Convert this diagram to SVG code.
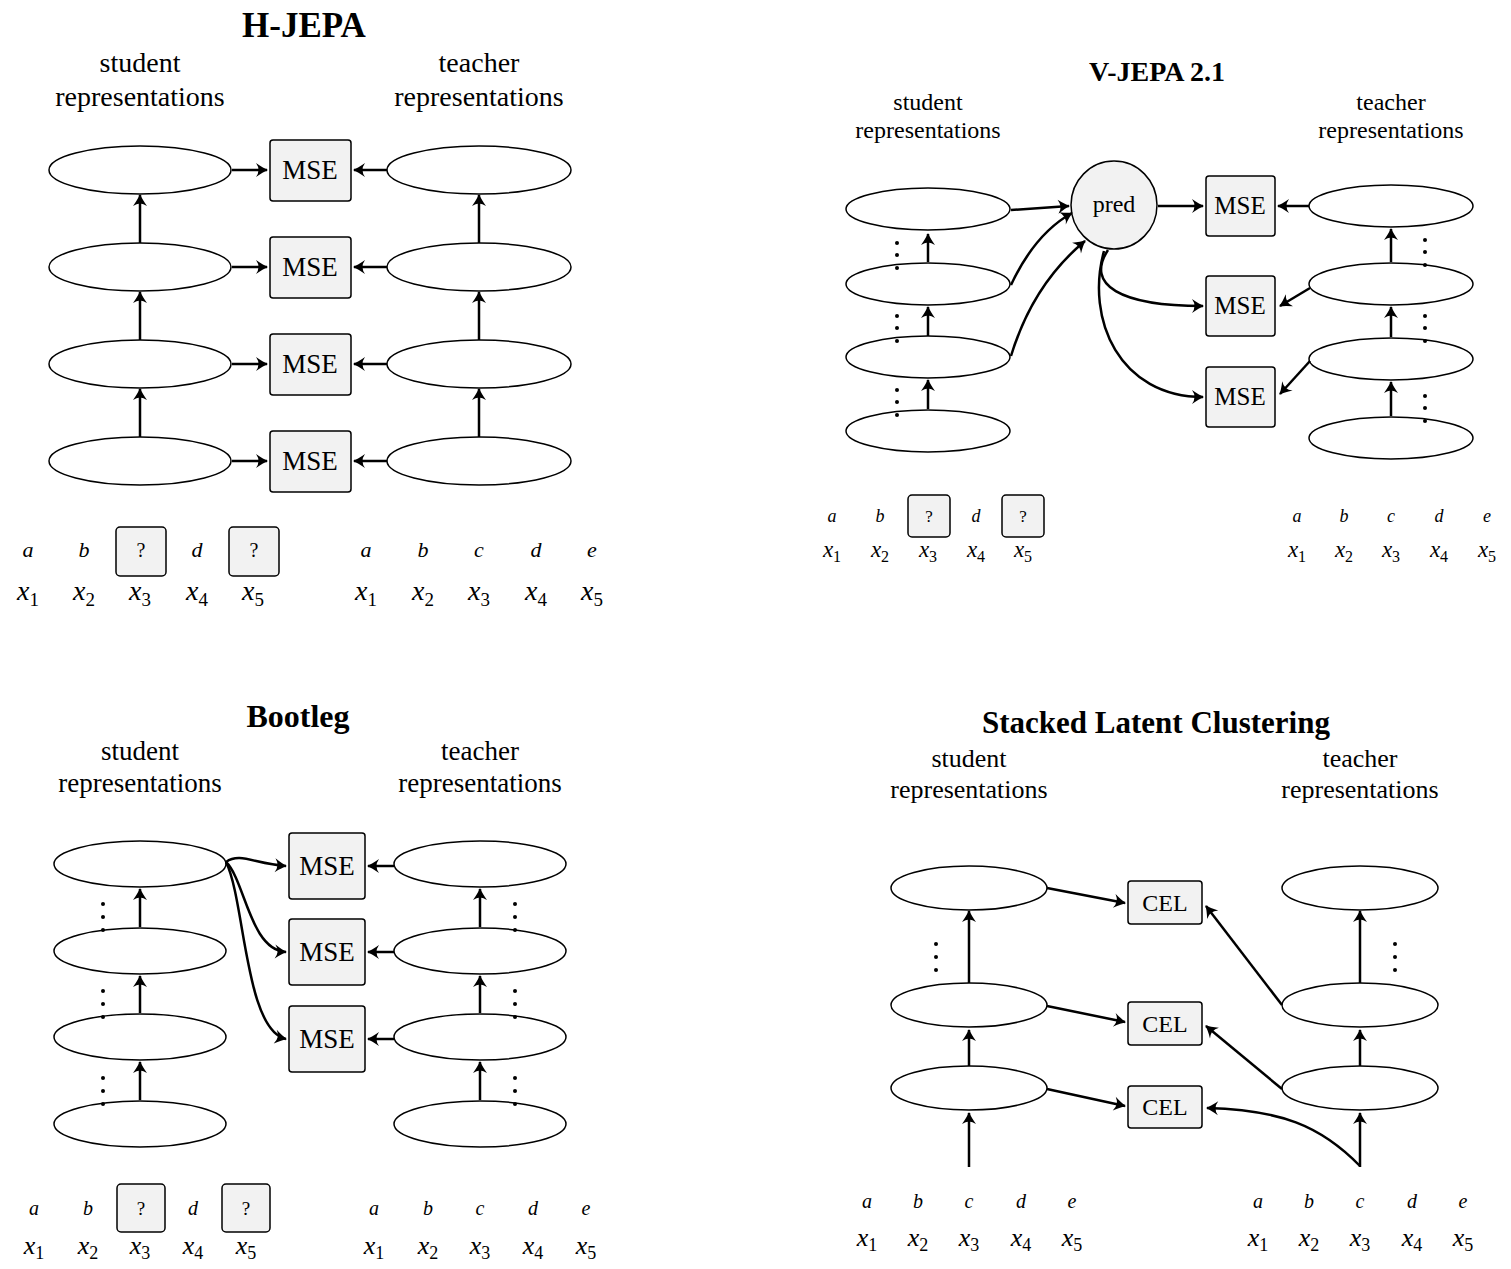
<svg xmlns="http://www.w3.org/2000/svg" width="1511" height="1269" viewBox="0 0 1511 1269">
<style>
text{font-family:"Liberation Serif","Times New Roman",serif;fill:#000}
.t{font-weight:bold;text-anchor:middle}
.c{text-anchor:middle}
.m{font-style:italic;text-anchor:middle}
.e{fill:#fff;stroke:#000;stroke-width:1.5}
.b{fill:#f2f2f2;stroke:#000;stroke-width:1.5}
.a{fill:none;stroke:#000;stroke-width:2.5;marker-end:url(#ah)}
.d{fill:#000}
</style>
<defs>
<marker id="ah" viewBox="-12 -8 14 16" refX="0" refY="0" markerWidth="14" markerHeight="16" markerUnits="userSpaceOnUse" orient="auto">
<path d="M-11,-7 Q-4,-2 1,0 Q-4,2 -11,7 Q-6,0 -11,-7Z" fill="#000"/>
</marker>
</defs>
<rect width="1511" height="1269" fill="#fff"/>

<!-- H-JEPA -->
<g id="hjepa-labels">
<text class="t" x="304" y="37" font-size="35">H-JEPA</text>
<text class="c" x="140" y="72" font-size="28">student</text>
<text class="c" x="140" y="106" font-size="28">representations</text>
<text class="c" x="479" y="72" font-size="28">teacher</text>
<text class="c" x="479" y="106" font-size="28">representations</text>
</g>
<g id="hjepa-student">
<ellipse class="e" cx="140" cy="170" rx="91" ry="24"/>
<ellipse class="e" cx="140" cy="267" rx="91" ry="24"/>
<ellipse class="e" cx="140" cy="364" rx="91" ry="24"/>
<ellipse class="e" cx="140" cy="461" rx="91" ry="24"/>
</g>
<g id="hjepa-teacher">
<ellipse class="e" cx="479" cy="170" rx="92" ry="24"/>
<ellipse class="e" cx="479" cy="267" rx="92" ry="24"/>
<ellipse class="e" cx="479" cy="364" rx="92" ry="24"/>
<ellipse class="e" cx="479" cy="461" rx="92" ry="24"/>
</g>
<g id="hjepa-mse">
<rect class="b" x="270" y="140" width="81" height="61" rx="3"/><text class="c" x="310" y="179" font-size="27">MSE</text>
<rect class="b" x="270" y="237" width="81" height="61" rx="3"/><text class="c" x="310" y="276" font-size="27">MSE</text>
<rect class="b" x="270" y="334" width="81" height="61" rx="3"/><text class="c" x="310" y="373" font-size="27">MSE</text>
<rect class="b" x="270" y="431" width="81" height="61" rx="3"/><text class="c" x="310" y="470" font-size="27">MSE</text>
</g>
<g id="hjepa-connectors">
<path class="a" d="M232,170H267"/><path class="a" d="M232,267H267"/><path class="a" d="M232,364H267"/><path class="a" d="M232,461H267"/>
<path class="a" d="M387,170H354"/><path class="a" d="M387,267H354"/><path class="a" d="M387,364H354"/><path class="a" d="M387,461H354"/>
<path class="a" d="M140,243V195"/><path class="a" d="M140,340V292"/><path class="a" d="M140,437V389"/>
<path class="a" d="M479,243V195"/><path class="a" d="M479,340V292"/><path class="a" d="M479,437V389"/>
</g>
<g id="hjepa-tokens">
<rect class="b" x="116" y="527" width="50" height="49" rx="4"/>
<rect class="b" x="229" y="527" width="50" height="49" rx="4"/>
<text class="m" x="28" y="557" font-size="22">a</text><text class="m" x="84" y="557" font-size="22">b</text><text class="c" x="141" y="557" font-size="20">?</text><text class="m" x="197" y="557" font-size="22">d</text><text class="c" x="254" y="557" font-size="20">?</text>
<text class="m" x="28" y="600" font-size="28">x<tspan font-size="19" dy="6" font-style="normal">1</tspan></text>
<text class="m" x="84" y="600" font-size="28">x<tspan font-size="19" dy="6" font-style="normal">2</tspan></text>
<text class="m" x="140" y="600" font-size="28">x<tspan font-size="19" dy="6" font-style="normal">3</tspan></text>
<text class="m" x="197" y="600" font-size="28">x<tspan font-size="19" dy="6" font-style="normal">4</tspan></text>
<text class="m" x="253" y="600" font-size="28">x<tspan font-size="19" dy="6" font-style="normal">5</tspan></text>
<text class="m" x="366" y="557" font-size="22">a</text><text class="m" x="423" y="557" font-size="22">b</text><text class="m" x="479" y="557" font-size="22">c</text><text class="m" x="536" y="557" font-size="22">d</text><text class="m" x="592" y="557" font-size="22">e</text>
<text class="m" x="366" y="600" font-size="28">x<tspan font-size="19" dy="6" font-style="normal">1</tspan></text>
<text class="m" x="423" y="600" font-size="28">x<tspan font-size="19" dy="6" font-style="normal">2</tspan></text>
<text class="m" x="479" y="600" font-size="28">x<tspan font-size="19" dy="6" font-style="normal">3</tspan></text>
<text class="m" x="536" y="600" font-size="28">x<tspan font-size="19" dy="6" font-style="normal">4</tspan></text>
<text class="m" x="592" y="600" font-size="28">x<tspan font-size="19" dy="6" font-style="normal">5</tspan></text>
</g>

<!-- V-JEPA 2.1 -->
<g id="vjepa-labels">
<text class="t" x="1157" y="81" font-size="28">V-JEPA 2.1</text>
<text class="c" x="928" y="110" font-size="24">student</text>
<text class="c" x="928" y="138" font-size="24">representations</text>
<text class="c" x="1391" y="110" font-size="24">teacher</text>
<text class="c" x="1391" y="138" font-size="24">representations</text>
</g>
<g id="vjepa-student">
<ellipse class="e" cx="928" cy="209" rx="82" ry="21"/>
<ellipse class="e" cx="928" cy="284" rx="82" ry="21"/>
<ellipse class="e" cx="928" cy="357" rx="82" ry="21"/>
<ellipse class="e" cx="928" cy="431" rx="82" ry="21"/>
<g class="d"><circle cx="897" cy="243" r="2"/><circle cx="897" cy="255" r="2"/><circle cx="897" cy="268" r="2"/>
<circle cx="897" cy="316" r="2"/><circle cx="897" cy="328" r="2"/><circle cx="897" cy="341" r="2"/>
<circle cx="897" cy="390" r="2"/><circle cx="897" cy="402" r="2"/><circle cx="897" cy="415" r="2"/></g>
</g>
<g id="vjepa-pred">
<ellipse class="b" cx="1114" cy="205" rx="43" ry="44"/><text class="c" x="1114" y="212" font-size="24">pred</text>
</g>
<g id="vjepa-mse">
<rect class="b" x="1206" y="176" width="69" height="60" rx="3"/><text class="c" x="1240" y="214" font-size="25">MSE</text>
<rect class="b" x="1206" y="276" width="69" height="60" rx="3"/><text class="c" x="1240" y="314" font-size="25">MSE</text>
<rect class="b" x="1206" y="367" width="69" height="60" rx="3"/><text class="c" x="1240" y="405" font-size="25">MSE</text>
</g>
<g id="vjepa-teacher">
<ellipse class="e" cx="1391" cy="206" rx="82" ry="21"/>
<ellipse class="e" cx="1391" cy="284" rx="82" ry="21"/>
<ellipse class="e" cx="1391" cy="359" rx="82" ry="21"/>
<ellipse class="e" cx="1391" cy="438" rx="82" ry="21"/>
<g class="d"><circle cx="1425" cy="240" r="2"/><circle cx="1425" cy="252" r="2"/><circle cx="1425" cy="265" r="2"/>
<circle cx="1425" cy="316" r="2"/><circle cx="1425" cy="328" r="2"/><circle cx="1425" cy="341" r="2"/>
<circle cx="1425" cy="396" r="2"/><circle cx="1425" cy="408" r="2"/><circle cx="1425" cy="421" r="2"/></g>
</g>
<g id="vjepa-connectors">
<path class="a" d="M928,262V234"/><path class="a" d="M928,336V307"/><path class="a" d="M928,409V380"/>
<path class="a" d="M1391,262V229"/><path class="a" d="M1391,337V307"/><path class="a" d="M1391,416V382"/>
<path class="a" d="M1011,210L1069,206"/>
<path class="a" d="M1011,285C1025,255 1045,228 1072,213"/>
<path class="a" d="M1011,356C1025,310 1050,270 1085,241"/>
<path class="a" d="M1158,206H1203"/>
<path class="a" d="M1108,250C1085,285 1120,306 1203,306"/>
<path class="a" d="M1104,251C1085,320 1120,397 1203,397"/>
<path class="a" d="M1309,206H1278"/>
<path class="a" d="M1310,288L1280,306"/>
<path class="a" d="M1310,361L1280,394"/>
</g>
<g id="vjepa-tokens">
<rect class="b" x="908" y="495" width="42" height="42" rx="4"/>
<rect class="b" x="1002" y="495" width="42" height="42" rx="4"/>
<text class="m" x="832" y="522" font-size="18">a</text><text class="m" x="880" y="522" font-size="18">b</text><text class="c" x="929" y="522" font-size="17">?</text><text class="m" x="976" y="522" font-size="18">d</text><text class="c" x="1023" y="522" font-size="17">?</text>
<text class="m" x="832" y="557" font-size="23">x<tspan font-size="16" dy="5" font-style="normal">1</tspan></text>
<text class="m" x="880" y="557" font-size="23">x<tspan font-size="16" dy="5" font-style="normal">2</tspan></text>
<text class="m" x="928" y="557" font-size="23">x<tspan font-size="16" dy="5" font-style="normal">3</tspan></text>
<text class="m" x="976" y="557" font-size="23">x<tspan font-size="16" dy="5" font-style="normal">4</tspan></text>
<text class="m" x="1023" y="557" font-size="23">x<tspan font-size="16" dy="5" font-style="normal">5</tspan></text>
<text class="m" x="1297" y="522" font-size="18">a</text><text class="m" x="1344" y="522" font-size="18">b</text><text class="m" x="1391" y="522" font-size="18">c</text><text class="m" x="1439" y="522" font-size="18">d</text><text class="m" x="1487" y="522" font-size="18">e</text>
<text class="m" x="1297" y="557" font-size="23">x<tspan font-size="16" dy="5" font-style="normal">1</tspan></text>
<text class="m" x="1344" y="557" font-size="23">x<tspan font-size="16" dy="5" font-style="normal">2</tspan></text>
<text class="m" x="1391" y="557" font-size="23">x<tspan font-size="16" dy="5" font-style="normal">3</tspan></text>
<text class="m" x="1439" y="557" font-size="23">x<tspan font-size="16" dy="5" font-style="normal">4</tspan></text>
<text class="m" x="1487" y="557" font-size="23">x<tspan font-size="16" dy="5" font-style="normal">5</tspan></text>
</g>

<!-- Bootleg -->
<g id="bootleg-labels">
<text class="t" x="298" y="727" font-size="32">Bootleg</text>
<text class="c" x="140" y="760" font-size="27">student</text>
<text class="c" x="140" y="792" font-size="27">representations</text>
<text class="c" x="480" y="760" font-size="27">teacher</text>
<text class="c" x="480" y="792" font-size="27">representations</text>
</g>
<g id="bootleg-student">
<ellipse class="e" cx="140" cy="864" rx="86" ry="23"/>
<ellipse class="e" cx="140" cy="951" rx="86" ry="23"/>
<ellipse class="e" cx="140" cy="1037" rx="86" ry="23"/>
<ellipse class="e" cx="140" cy="1124" rx="86" ry="23"/>
<g class="d"><circle cx="103" cy="904" r="2"/><circle cx="103" cy="917" r="2"/><circle cx="103" cy="930" r="2"/>
<circle cx="103" cy="991" r="2"/><circle cx="103" cy="1004" r="2"/><circle cx="103" cy="1017" r="2"/>
<circle cx="103" cy="1078" r="2"/><circle cx="103" cy="1091" r="2"/><circle cx="103" cy="1104" r="2"/></g>
</g>
<g id="bootleg-mse">
<rect class="b" x="289" y="833" width="76" height="66" rx="3"/><text class="c" x="327" y="875" font-size="27">MSE</text>
<rect class="b" x="289" y="919" width="76" height="66" rx="3"/><text class="c" x="327" y="961" font-size="27">MSE</text>
<rect class="b" x="289" y="1006" width="76" height="66" rx="3"/><text class="c" x="327" y="1048" font-size="27">MSE</text>
</g>
<g id="bootleg-teacher">
<ellipse class="e" cx="480" cy="864" rx="86" ry="23"/>
<ellipse class="e" cx="480" cy="951" rx="86" ry="23"/>
<ellipse class="e" cx="480" cy="1037" rx="86" ry="23"/>
<ellipse class="e" cx="480" cy="1124" rx="86" ry="23"/>
<g class="d"><circle cx="515" cy="904" r="2"/><circle cx="515" cy="917" r="2"/><circle cx="515" cy="930" r="2"/>
<circle cx="515" cy="991" r="2"/><circle cx="515" cy="1004" r="2"/><circle cx="515" cy="1017" r="2"/>
<circle cx="515" cy="1078" r="2"/><circle cx="515" cy="1091" r="2"/><circle cx="515" cy="1104" r="2"/></g>
</g>
<g id="bootleg-connectors">
<path class="a" d="M140,927V889"/><path class="a" d="M140,1013V976"/><path class="a" d="M140,1100V1062"/>
<path class="a" d="M480,927V889"/><path class="a" d="M480,1013V976"/><path class="a" d="M480,1100V1062"/>
<path class="a" d="M394,866H368"/><path class="a" d="M394,952H368"/><path class="a" d="M394,1039H368"/>
<path class="a" d="M226,862C240,852 255,864 286,866"/>
<path class="a" d="M226,862C245,880 250,950 286,952"/>
<path class="a" d="M226,862C245,900 245,1030 286,1039"/>
</g>
<g id="bootleg-tokens">
<rect class="b" x="117" y="1184" width="48" height="48" rx="4"/>
<rect class="b" x="222" y="1184" width="48" height="48" rx="4"/>
<text class="m" x="34" y="1215" font-size="20">a</text><text class="m" x="88" y="1215" font-size="20">b</text><text class="c" x="141" y="1215" font-size="19">?</text><text class="m" x="193" y="1215" font-size="20">d</text><text class="c" x="246" y="1215" font-size="19">?</text>
<text class="m" x="34" y="1254" font-size="26">x<tspan font-size="18" dy="5" font-style="normal">1</tspan></text>
<text class="m" x="88" y="1254" font-size="26">x<tspan font-size="18" dy="5" font-style="normal">2</tspan></text>
<text class="m" x="140" y="1254" font-size="26">x<tspan font-size="18" dy="5" font-style="normal">3</tspan></text>
<text class="m" x="193" y="1254" font-size="26">x<tspan font-size="18" dy="5" font-style="normal">4</tspan></text>
<text class="m" x="246" y="1254" font-size="26">x<tspan font-size="18" dy="5" font-style="normal">5</tspan></text>
<text class="m" x="374" y="1215" font-size="20">a</text><text class="m" x="428" y="1215" font-size="20">b</text><text class="m" x="480" y="1215" font-size="20">c</text><text class="m" x="533" y="1215" font-size="20">d</text><text class="m" x="586" y="1215" font-size="20">e</text>
<text class="m" x="374" y="1254" font-size="26">x<tspan font-size="18" dy="5" font-style="normal">1</tspan></text>
<text class="m" x="428" y="1254" font-size="26">x<tspan font-size="18" dy="5" font-style="normal">2</tspan></text>
<text class="m" x="480" y="1254" font-size="26">x<tspan font-size="18" dy="5" font-style="normal">3</tspan></text>
<text class="m" x="533" y="1254" font-size="26">x<tspan font-size="18" dy="5" font-style="normal">4</tspan></text>
<text class="m" x="586" y="1254" font-size="26">x<tspan font-size="18" dy="5" font-style="normal">5</tspan></text>
</g>

<!-- Stacked Latent Clustering -->
<g id="slc-labels">
<text class="t" x="1156" y="733" font-size="31">Stacked Latent Clustering</text>
<text class="c" x="969" y="767" font-size="26">student</text>
<text class="c" x="969" y="798" font-size="26">representations</text>
<text class="c" x="1360" y="767" font-size="26">teacher</text>
<text class="c" x="1360" y="798" font-size="26">representations</text>
</g>
<g id="slc-student">
<ellipse class="e" cx="969" cy="888" rx="78" ry="22"/>
<ellipse class="e" cx="969" cy="1005" rx="78" ry="22"/>
<ellipse class="e" cx="969" cy="1088" rx="78" ry="22"/>
<g class="d"><circle cx="936" cy="944" r="2"/><circle cx="936" cy="957" r="2"/><circle cx="936" cy="970" r="2"/></g>
</g>
<g id="slc-cel">
<rect class="b" x="1128" y="881" width="74" height="43" rx="3"/><text class="c" x="1165" y="911" font-size="24">CEL</text>
<rect class="b" x="1128" y="1002" width="74" height="43" rx="3"/><text class="c" x="1165" y="1032" font-size="24">CEL</text>
<rect class="b" x="1128" y="1086" width="74" height="42" rx="3"/><text class="c" x="1165" y="1115" font-size="24">CEL</text>
</g>
<g id="slc-teacher">
<ellipse class="e" cx="1360" cy="888" rx="78" ry="22"/>
<ellipse class="e" cx="1360" cy="1005" rx="78" ry="22"/>
<ellipse class="e" cx="1360" cy="1088" rx="78" ry="22"/>
<g class="d"><circle cx="1395" cy="944" r="2"/><circle cx="1395" cy="957" r="2"/><circle cx="1395" cy="970" r="2"/></g>
</g>
<g id="slc-connectors">
<path class="a" d="M969,1167V1113"/><path class="a" d="M969,1066V1030"/><path class="a" d="M969,983V911"/>
<path class="a" d="M1360,1167V1113"/><path class="a" d="M1360,1066V1030"/><path class="a" d="M1360,983V911"/>
<path class="a" d="M1047,888L1125,903"/>
<path class="a" d="M1047,1006L1125,1022"/>
<path class="a" d="M1047,1089L1125,1106"/>
<path class="a" d="M1282,1005L1206,906"/>
<path class="a" d="M1282,1089L1206,1026"/>
<path class="a" d="M1360,1166C1320,1125 1280,1110 1207,1108"/>
</g>
<g id="slc-tokens">
<text class="m" x="867" y="1208" font-size="20">a</text><text class="m" x="918" y="1208" font-size="20">b</text><text class="m" x="969" y="1208" font-size="20">c</text><text class="m" x="1021" y="1208" font-size="20">d</text><text class="m" x="1072" y="1208" font-size="20">e</text>
<text class="m" x="867" y="1246" font-size="26">x<tspan font-size="18" dy="5" font-style="normal">1</tspan></text>
<text class="m" x="918" y="1246" font-size="26">x<tspan font-size="18" dy="5" font-style="normal">2</tspan></text>
<text class="m" x="969" y="1246" font-size="26">x<tspan font-size="18" dy="5" font-style="normal">3</tspan></text>
<text class="m" x="1021" y="1246" font-size="26">x<tspan font-size="18" dy="5" font-style="normal">4</tspan></text>
<text class="m" x="1072" y="1246" font-size="26">x<tspan font-size="18" dy="5" font-style="normal">5</tspan></text>
<text class="m" x="1258" y="1208" font-size="20">a</text><text class="m" x="1309" y="1208" font-size="20">b</text><text class="m" x="1360" y="1208" font-size="20">c</text><text class="m" x="1412" y="1208" font-size="20">d</text><text class="m" x="1463" y="1208" font-size="20">e</text>
<text class="m" x="1258" y="1246" font-size="26">x<tspan font-size="18" dy="5" font-style="normal">1</tspan></text>
<text class="m" x="1309" y="1246" font-size="26">x<tspan font-size="18" dy="5" font-style="normal">2</tspan></text>
<text class="m" x="1360" y="1246" font-size="26">x<tspan font-size="18" dy="5" font-style="normal">3</tspan></text>
<text class="m" x="1412" y="1246" font-size="26">x<tspan font-size="18" dy="5" font-style="normal">4</tspan></text>
<text class="m" x="1463" y="1246" font-size="26">x<tspan font-size="18" dy="5" font-style="normal">5</tspan></text>
</g>
</svg>
